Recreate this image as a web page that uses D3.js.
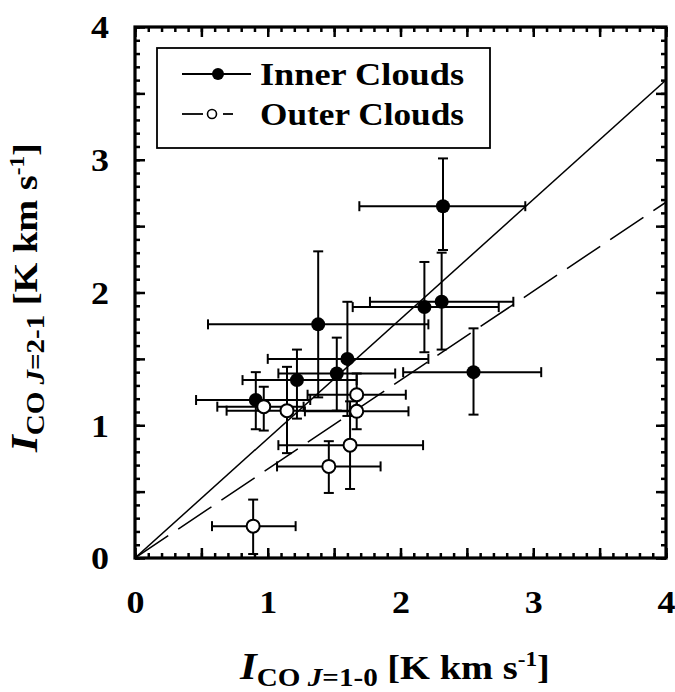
<!DOCTYPE html>
<html><head><meta charset="utf-8">
<script src="https://cdn.jsdelivr.net/npm/d3@7"></script>
<style>body{margin:0;background:#fff}</style>
</head><body><svg id="c" width="675" height="692"></svg>
<script>
// ---- data ----
const innerX   = [2.32, 2.31, 2.18, 1.38, 1.60, 1.52, 1.22, 0.91, 2.55];
const innerY   = [2.65, 1.93, 1.89, 1.76, 1.50, 1.39, 1.34, 1.19, 1.40];
const innerXlo = [1.69, 1.77, 1.64, 0.55, 1.00, 1.08, 0.81, 0.46, 2.02];
const innerXhi = [2.94, 2.85, 2.74, 2.21, 2.21, 1.96, 1.67, 1.32, 3.06];
const innerYlo = [2.32, 1.57, 1.55, 1.21, 1.07, 1.11, 1.05, 0.97, 1.08];
const innerYhi = [3.01, 2.30, 2.23, 2.31, 1.93, 1.66, 1.57, 1.40, 1.73];

const outerX   = [0.89, 1.46, 1.62, 1.67, 1.67, 1.145, 0.97];
const outerY   = [0.24, 0.69, 0.85, 1.105, 1.23, 1.11, 1.14];
const outerXlo = [0.58, 1.07, 1.08, 1.28, 1.30, 0.69, 0.62];
const outerXhi = [1.21, 1.85, 2.17, 2.06, 2.04, 1.62, 1.27];
const outerYlo = [0.03, 0.49, 0.52, 0.97, 1.07, 0.79, 0.96];
const outerYhi = [0.44, 0.88, 1.18, 1.24, 1.39, 1.44, 1.29];

const fitSlopes = [0.90, 0.67];          // inner (solid), outer (dashed)
const tickLabels = ["0", "1", "2", "3", "4"];
const tickValues = [0, 1, 2, 3, 4];
const seriesNames = ["Inner Clouds", "Outer Clouds"];

// ---- setup ----
const FONT = "'Liberation Serif','Times New Roman',Times,serif";
const svg = d3.select("#c");
const x = d3.scaleLinear().domain([0, 4]).range([135, 666]);
const y = d3.scaleLinear().domain([0, 4]).range([558, 27]);
const W = x(4) - x(0), H = y(0) - y(4);

svg.append("defs").append("clipPath").attr("id", "clip")
  .append("rect").attr("x", x(0)).attr("y", y(4)).attr("width", W).attr("height", H);

const plot = svg.append("g").attr("clip-path", "url(#clip)");

// fit lines
fitSlopes.forEach((s, i) => {
  plot.append("line")
    .attr("x1", x(0)).attr("y1", y(0)).attr("x2", x(4)).attr("y2", y(4 * s))
    .attr("stroke", "#000").attr("stroke-width", 1.5)
    .attr("stroke-dasharray", i ? "40,12" : null);
});

// error bars
function errbars(xs, ys, xlo, xhi, ylo, yhi) {
  const g = plot.append("g").attr("stroke", "#000").attr("stroke-width", 2).attr("fill", "none");
  const cap = 5;
  xs.forEach((d, i) => {
    const px = x(d), py = y(ys[i]);
    g.append("line").attr("x1", x(xlo[i])).attr("x2", x(xhi[i])).attr("y1", py).attr("y2", py);
    [xlo[i], xhi[i]].forEach(v => g.append("line").attr("x1", x(v)).attr("x2", x(v)).attr("y1", py - cap).attr("y2", py + cap));
    g.append("line").attr("x1", px).attr("x2", px).attr("y1", y(ylo[i])).attr("y2", y(yhi[i]));
    [ylo[i], yhi[i]].forEach(v => g.append("line").attr("x1", px - cap).attr("x2", px + cap).attr("y1", y(v)).attr("y2", y(v)));
  });
}
errbars(innerX, innerY, innerXlo, innerXhi, innerYlo, innerYhi);
errbars(outerX, outerY, outerXlo, outerXhi, outerYlo, outerYhi);

plot.append("g").selectAll("circle").data(innerX).join("circle")
  .attr("cx", d => x(d)).attr("cy", (d, i) => y(innerY[i])).attr("r", 7).attr("fill", "#000");
plot.append("g").selectAll("circle").data(outerX).join("circle")
  .attr("cx", d => x(d)).attr("cy", (d, i) => y(outerY[i])).attr("r", 6.5)
  .attr("fill", "#fff").attr("stroke", "#000").attr("stroke-width", 2);

// ---- axes (ticks inward on all four sides) ----
const minor = d3.range(0, 41).map(v => v / 10);
const half = d3.range(0, 9).map(v => v / 2);
function tickAxis(axisFn, scale, vals, size, transform) {
  const g = svg.append("g").attr("transform", transform)
    .call(axisFn(scale).tickValues(vals).tickSize(size).tickFormat(""));
  g.select(".domain").remove();
  g.selectAll("line").attr("stroke", "#000").attr("stroke-width", 2.5);
  return g;
}
[[minor, 5], [half, 10]].forEach(([vals, len]) => {
  tickAxis(d3.axisBottom, x, vals, -len, `translate(0,${y(0)})`);
  tickAxis(d3.axisTop, x, vals, -len, `translate(0,${y(4)})`);
  tickAxis(d3.axisLeft, y, vals, -len, `translate(${x(0)},0)`);
  tickAxis(d3.axisRight, y, vals, -len, `translate(${x(4)},0)`);
});

// frame
svg.append("rect").attr("x", x(0)).attr("y", y(4)).attr("width", W).attr("height", H)
  .attr("fill", "none").attr("stroke", "#000").attr("stroke-width", 3.2);

// tick labels
const xl = svg.append("g").attr("transform", `translate(0,${y(0)})`)
  .call(d3.axisBottom(x).tickValues(tickValues).tickSize(0).tickPadding(0).tickFormat((d, i) => tickLabels[i]));
xl.select(".domain").remove();
xl.selectAll("text").attr("y", 55).attr("dy", null)
  .attr("font-family", FONT).attr("font-weight", "bold").attr("font-size", 32).attr("fill", "#000")
  .attr("textLength", 18).attr("lengthAdjust", "spacingAndGlyphs");
const yl = svg.append("g").attr("transform", `translate(${x(0)},0)`)
  .call(d3.axisLeft(y).tickValues(tickValues).tickSize(0).tickPadding(0).tickFormat((d, i) => tickLabels[i]));
yl.select(".domain").remove();
yl.selectAll("text").attr("x", -26).attr("dy", "0.34em")
  .attr("font-family", FONT).attr("font-weight", "bold").attr("font-size", 32).attr("fill", "#000")
  .attr("textLength", 18).attr("lengthAdjust", "spacingAndGlyphs");

// ---- legend ----
const lg = svg.append("g");
lg.append("rect").attr("x", 157).attr("y", 48).attr("width", 333).attr("height", 100)
  .attr("fill", "#fff").attr("stroke", "#000").attr("stroke-width", 1.8);
lg.append("line").attr("x1", 182).attr("x2", 251).attr("y1", 74).attr("y2", 74).attr("stroke", "#000").attr("stroke-width", 1.8);
lg.append("circle").attr("cx", 218).attr("cy", 74).attr("r", 6).attr("fill", "#000");
lg.append("line").attr("x1", 182).attr("x2", 203).attr("y1", 114).attr("y2", 114).attr("stroke", "#000").attr("stroke-width", 1.8);
lg.append("line").attr("x1", 223).attr("x2", 233).attr("y1", 114).attr("y2", 114).attr("stroke", "#000").attr("stroke-width", 1.8);
lg.append("circle").attr("cx", 212).attr("cy", 114).attr("r", 4.5).attr("fill", "#fff").attr("stroke", "#000").attr("stroke-width", 1.6);
[[85, seriesNames[0]], [125, seriesNames[1]]].forEach(([by, t]) => {
  lg.append("text").attr("x", 260).attr("y", by).text(t)
    .attr("font-family", FONT).attr("font-weight", "bold").attr("font-size", 32)
    .attr("textLength", 204).attr("lengthAdjust", "spacingAndGlyphs");
});

// ---- axis titles ----
function title(transform, sub, target) {
  const g = svg.append("g").attr("transform", transform);
  const inner = g.append("g");
  const t = inner.append("text").attr("font-family", FONT).attr("font-weight", "bold").attr("fill", "#000");
  t.append("tspan").attr("font-style", "italic").attr("font-size", 37).text("I");
  t.append("tspan").attr("font-size", 25).attr("dy", 7).text("CO ");
  t.append("tspan").attr("font-size", 25).attr("font-style", "italic").text("J");
  t.append("tspan").attr("font-size", 25).text(sub);
  t.append("tspan").attr("font-size", 33).attr("dy", -7).text(" [K km s");
  t.append("tspan").attr("font-size", 20).attr("dy", -13).text("-1");
  t.append("tspan").attr("font-size", 33).attr("dy", 13).text("]");
  const len = t.node().getComputedTextLength();
  inner.attr("transform", `scale(${target / len},1)`);
}
title(`translate(240,679)`, "=1-0", 310);
title(`translate(37,452) rotate(-90)`, "=2-1", 309);
</script>
</body></html>
